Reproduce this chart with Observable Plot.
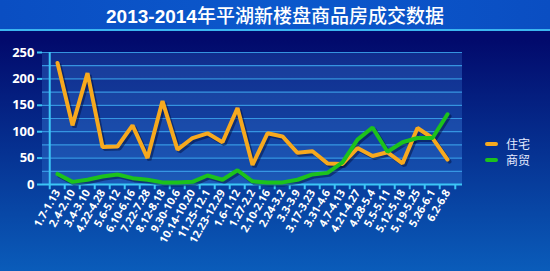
<!DOCTYPE html>
<html>
<head>
<meta charset="utf-8">
<script src="https://cdn.jsdelivr.net/npm/d3@7"></script>
<script src="https://cdn.jsdelivr.net/npm/@observablehq/plot@0.6"></script>
<style>
  html, body { margin: 0; padding: 0; }
  body { width: 550px; height: 271px; overflow: hidden; position: relative;
         background: linear-gradient(to bottom, #020a6c 0px, #020a6c 40px, #0a5cba 271px);
         font-family: "Liberation Sans", Arial, "Noto Sans CJK SC", sans-serif; }
  #title { height: 29px; line-height: 30px; text-align: center; color: #fff;
           background: linear-gradient(to right, #0a4ec2, #0b58cc 50%, #0a4ec2);
           border-bottom: 2px solid #3cb6f0; font-size: 19px; font-weight: bold;
           letter-spacing: 0px; }
  #title .cjk { font-family: "Noto Sans CJK SC", sans-serif; font-weight: 500; }
  #chart svg { display: block; }
  #legend { position: absolute; left: 485px; top: 136px; color: #e6ecff;
            font-family: "Noto Sans CJK SC", sans-serif; font-size: 12px; }
  #legend div { height: 16px; line-height: 16px; display: flex; align-items: center; }
  #legend span.sw { display: inline-block; width: 13px; height: 4px; border-radius: 2px; margin-right: 8px; }
</style>
</head>
<body>
<div id="title">2013-2014<span class="cjk">年平湖新楼盘商品房成交数据</span></div>
<div id="chart"></div>
<div id="legend"></div>
<script>
const categories = ["1.7-1.13","2.4-2.10","3.4-3.10","4.22-4.28","5.6-5.12","6.10-6.16","7.22-7.28","8.12-8.18","9.30-10.6","10.14-10.20","11.25-12.1","12.23-12.29","1.6-1.12","1.27-2.2","2.10-2.16","2.24-3.2","3.3-3.9","3.17-3.23","3.31-4.6","4.7-4.13","4.21-4.27","4.28-5.4","5.5-5.11","5.12-5.18","5.19-5.25","5.26-6.1","6.2-6.8"];
const residential = [230,112,211,71,72,112,50,158,66,88,97,80,145,37,97,91,60,63,40,39,69,54,61,40,107,88,47];
const commercial = [20,5,9,15,19,12,9,4,4,5,17,9,27,6,4,4,9,19,22,42,85,108,62,80,88,88,133];
const seriesNames = ["住宅", "商贸"];
const seriesColors = ["#f7a91e", "#1cc21c"];
const yTicks = [0, 50, 100, 150, 200, 250];
const gridValues = [0, 25, 50, 75, 100, 125, 150, 175, 200, 225, 250];

const data = [];
categories.forEach((c, i) => {
  data.push({cat: c, series: seriesNames[0], value: residential[i]});
  data.push({cat: c, series: seriesNames[1], value: commercial[i]});
});
const bands = gridValues.slice(0, -1).map((v, i) => ({y1: v, y2: gridValues[i + 1], k: i % 2}));

const W = 550, H = 240, mL = 42, mR = 88, mT = 21, mB = 87;
const step = (W - mL - mR) / categories.length;

const chart = Plot.plot({
  width: W, height: H,
  marginLeft: mL, marginRight: mR, marginTop: mT, marginBottom: mB,
  style: {background: "transparent", color: "#3cc6f6", overflow: "visible"},
  x: {type: "point", domain: categories, padding: 0.5},
  y: {domain: [0, 250]},
  marks: [
    Plot.rect(bands, {y1: "y1", y2: "y2", fill: d => d.k ? "rgba(70,150,240,0.22)" : "rgba(70,150,240,0.32)"}),
    Plot.ruleY(gridValues.slice(1), {stroke: "#3a9ee8", strokeWidth: 1.2, strokeOpacity: 0.9}),
    Plot.ruleY([0], {stroke: "#3cc6f6", strokeWidth: 2}),
    Plot.ruleX([categories[0]], {dx: -step / 2, stroke: "#3cc6f6", strokeWidth: 2}),
    Plot.ruleX(categories, {y1: 0, y2: -10, dx: -step / 2, stroke: "#3cc6f6", strokeWidth: 2}),
    Plot.ruleX([categories[categories.length - 1]], {y1: 0, y2: -10, dx: step / 2, stroke: "#3cc6f6", strokeWidth: 2}),
    Plot.axisY({ticks: yTicks, tickSize: 5, tickPadding: 3, fontSize: 13, fontWeight: "bold", fill: "white", stroke: "#3cc6f6", strokeWidth: 2, label: null}),
    Plot.axisX({tickSize: 0, tickPadding: 6, tickRotate: -60, fontSize: 11, fontWeight: "bold", fill: "white", label: null}),
    Plot.line(data, {x: "cat", y: "value", z: "series", stroke: "#000830", strokeOpacity: 0.45, strokeWidth: 4, dx: 2, dy: 2, strokeLinejoin: "miter"}),
    Plot.line(data, {x: "cat", y: "value", z: "series", stroke: "series", strokeWidth: 4, strokeLinejoin: "miter"})
  ],
  color: {domain: seriesNames, range: seriesColors}
});
document.getElementById("chart").appendChild(chart);

const legend = document.getElementById("legend");
seriesNames.forEach((n, i) => {
  const row = document.createElement("div");
  row.innerHTML = `<span class="sw" style="background:${seriesColors[i]}"></span>${n}`;
  legend.appendChild(row);
});
</script>
</body>
</html>
